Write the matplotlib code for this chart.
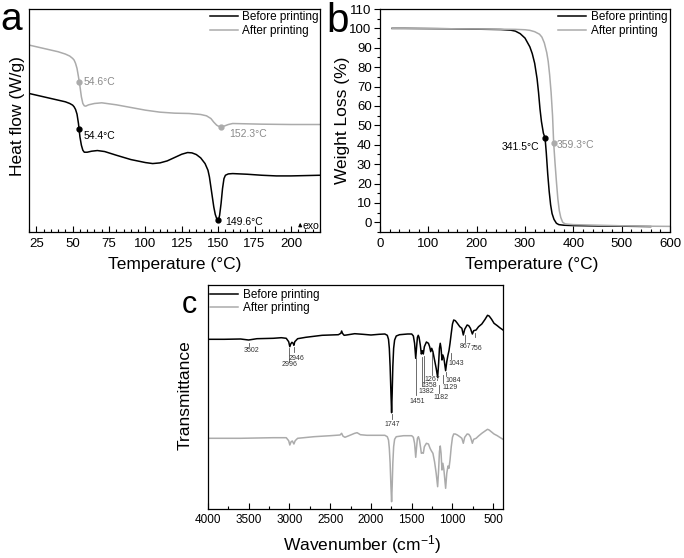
import numpy as np
import matplotlib
matplotlib.use("Agg")
import matplotlib.pyplot as plt
from matplotlib.ticker import MultipleLocator

plt.rcParams['font.family'] = ['Liberation Sans', 'DejaVu Sans']
plt.rcParams['mathtext.default'] = 'regular'

# ---------------- data: DSC (panel a) ----------------
dsc_T_before = [20, 25, 30, 35, 40, 45, 48, 50, 51, 52, 53, 54, 55, 56, 57, 58, 60, 63, 67, 72,
                80, 90, 100, 105, 110, 115, 120, 125, 129, 132, 135, 138, 141, 143, 144, 145,
                146, 147, 148, 149, 149.6, 150.3, 151, 152, 153, 154, 155, 157, 160, 170, 180,
                190, 200, 210, 220]
dsc_hf_before = [4.15, 4.10, 4.05, 4.00, 3.95, 3.90, 3.85, 3.80, 3.75, 3.67, 3.53, 3.25, 2.85,
                 2.60, 2.45, 2.39, 2.39, 2.42, 2.44, 2.41, 2.30, 2.17, 2.08, 2.05, 2.07, 2.13,
                 2.23, 2.33, 2.38, 2.37, 2.32, 2.22, 2.05, 1.85, 1.65, 1.35, 1.05, 0.75, 0.53,
                 0.40, 0.35, 0.37, 0.50, 0.85, 1.30, 1.60, 1.70, 1.74, 1.75, 1.73, 1.70, 1.68,
                 1.68, 1.69, 1.70]
dsc_T_after = [20, 25, 30, 35, 40, 45, 48, 50, 51, 52, 53, 54, 55, 56, 57, 58, 59, 61, 65, 70,
               80, 90, 100, 110, 120, 130, 138, 142, 145, 147, 149, 151, 152.3, 154, 157, 160,
               170, 180, 200, 220]
dsc_hf_after = [5.60, 5.55, 5.50, 5.45, 5.40, 5.33, 5.27, 5.20, 5.15, 5.05, 4.90, 4.65, 4.37,
                4.05, 3.85, 3.78, 3.77, 3.81, 3.85, 3.87, 3.81, 3.73, 3.65, 3.59, 3.56, 3.55,
                3.52, 3.48, 3.40, 3.29, 3.20, 3.15, 3.14, 3.17, 3.22, 3.25, 3.24, 3.23, 3.22,
                3.22]
dsc_tg = [54.4, 54.6]        # before, after
dsc_tm = [149.6, 152.3]      # before, after

# ---------------- data: TGA (panel b) ----------------
tga_T_before = [25, 50, 100, 150, 200, 250, 270, 280, 290, 300, 310, 315, 320, 325, 328, 331,
                334, 338, 341.5, 344, 347, 350, 353, 356, 360, 365, 370, 380, 400, 450, 500, 560]
tga_w_before = [100.0, 100.0, 99.9, 99.8, 99.6, 99.4, 99.1, 98.6, 97.3, 95.0, 90.5, 87.0, 82.0,
                74.0, 67.0, 58.5, 52.0, 46.0, 43.5, 36.0, 25.0, 16.0, 9.0, 4.5, 1.5, -0.5, -1.2,
                -1.5, -1.7, -1.9, -2.0, -2.2]
tga_T_after = [25, 100, 200, 280, 300, 310, 320, 330, 335, 340, 345, 348, 351, 354, 357, 359.3,
               362, 365, 368, 371, 374, 378, 383, 390, 400, 450, 500, 550, 600]
tga_w_after = [100.0, 99.9, 99.7, 99.5, 99.3, 99.0, 98.3, 97.0, 95.5, 92.5, 87.5, 83.0, 76.0,
               67.0, 55.0, 41.0, 31.0, 21.0, 12.0, 6.0, 2.5, 0.0, -0.8, -1.0, -1.2, -1.5, -1.8,
               -2.0, -2.1]
tga_td = [341.5, 359.3]      # before, after

# ---------------- data: FTIR (panel c) ----------------
ir_wn_before = [4000, 3800, 3600, 3502, 3400, 3200, 3100, 3040, 3010, 2996, 2985, 2970, 2955,
                2946, 2935, 2900, 2800, 2600, 2400, 2370, 2360, 2350, 2330, 2300, 2200, 2100,
                2000, 1900, 1830, 1800, 1785, 1775, 1765, 1755, 1747, 1740, 1732, 1722, 1710,
                1690, 1650, 1550, 1500, 1480, 1465, 1451, 1440, 1430, 1420, 1410, 1395, 1382,
                1370, 1358, 1345, 1320, 1295, 1280, 1267, 1255, 1240, 1220, 1200, 1182, 1170,
                1160, 1150, 1140, 1129, 1118, 1105, 1084, 1070, 1055, 1043, 1030, 1015, 1000,
                985, 965, 940, 910, 885, 867, 850, 820, 800, 780, 756, 740, 710, 680, 640, 600,
                570, 550, 520, 490, 450, 420, 380]
ir_t_before = [169.7, 169.7, 170.0, 169.0, 170.3, 170.7, 171.3, 170.7, 167.3, 162.3, 165.0,
               166.7, 165.7, 163.7, 167.3, 170.3, 171.7, 173.7, 174.3, 175.7, 178.0, 175.7,
               173.7, 174.0, 175.3, 174.7, 174.0, 174.7, 175.0, 173.7, 169.7, 160.7, 142.3,
               115.7, 96.3, 115.7, 142.3, 160.7, 169.0, 173.0, 174.3, 175.0, 175.0, 173.0,
               165.7, 150.7, 162.3, 171.7, 173.7, 171.7, 164.0, 155.0, 158.3, 155.0, 162.3,
               167.0, 165.7, 162.3, 157.3, 160.7, 157.3, 149.0, 140.7, 131.7, 145.7, 160.7,
               165.7, 160.7, 149.0, 154.0, 150.7, 138.3, 147.3, 154.0, 158.3, 165.7, 175.7,
               185.0, 189.0, 188.3, 185.7, 182.3, 180.7, 174.0, 179.7, 184.0, 183.3, 180.7,
               175.0, 178.3, 179.0, 182.3, 185.0, 189.7, 193.7, 193.0, 189.7, 185.7, 183.3,
               181.3, 179.0]
ir_wn_after = [4000, 3600, 3200, 3040, 3010, 2996, 2980, 2965, 2946, 2930, 2900, 2700, 2500,
               2380, 2360, 2345, 2320, 2280, 2200, 2170, 2130, 2050, 1900, 1830, 1800, 1785,
               1775, 1765, 1755, 1747, 1740, 1732, 1722, 1710, 1690, 1600, 1500, 1480, 1465,
               1451, 1440, 1430, 1418, 1405, 1390, 1382, 1370, 1358, 1345, 1320, 1295, 1275,
               1260, 1240, 1220, 1200, 1182, 1170, 1160, 1150, 1140, 1129, 1118, 1105, 1084,
               1070, 1055, 1043, 1030, 1015, 1000, 985, 965, 940, 910, 885, 867, 850, 820, 800,
               780, 756, 740, 710, 680, 640, 600, 570, 550, 520, 490, 450, 420, 380]
ir_t_after = [70.7, 70.7, 71.3, 71.3, 68.3, 64.0, 67.3, 68.0, 65.0, 68.3, 70.7, 72.3, 73.3,
              74.0, 75.7, 73.0, 71.7, 73.0, 75.7, 76.3, 74.3, 73.7, 73.7, 73.7, 72.3, 69.0,
              60.7, 45.7, 22.3, 7.3, 22.3, 45.7, 62.3, 69.7, 72.3, 73.3, 73.3, 71.7, 65.7,
              51.7, 62.3, 70.7, 72.3, 69.0, 60.7, 55.7, 56.3, 55.7, 62.3, 65.7, 65.0, 60.7,
              58.3, 55.7, 47.3, 35.7, 22.3, 39.0, 57.3, 63.0, 55.7, 39.0, 45.7, 39.0, 20.7,
              35.7, 43.0, 40.7, 49.0, 62.3, 71.7, 75.0, 75.0, 74.0, 72.3, 70.7, 65.7, 71.7,
              75.0, 74.7, 72.3, 65.7, 69.7, 70.7, 73.0, 75.7, 78.0, 79.7, 79.0, 77.0, 75.0,
              73.3, 71.7, 69.7]
ir_peaks = ['3502', '2996', '2946', '1747', '1451', '1382', '1358', '1267', '1182', '1129',
            '1084', '1043', '867', '756']

series_labels = ['Before printing', 'After printing']
BLACK = '#000000'
GREY_LINE = '#ababab'
GREY_TEXT = '#8a8a8a'

W, H = 684, 558
fig = plt.figure(figsize=(W / 100, H / 100), dpi=100)


def px_axes(l, t, r, b):
    return fig.add_axes([l / W, 1 - b / H, (r - l) / W, (b - t) / H])


def ftext(x, y, s, **kw):
    fig.text(x / W, 1 - y / H, s, **kw)


def style_axes(ax, lab_size, pad):
    for sp in ax.spines.values():
        sp.set_linewidth(0.9)
    ax.tick_params(which='both', direction='in', top=False, right=False,
                   labelsize=lab_size, pad=pad, width=0.8)
    ax.tick_params(which='major', length=4)
    ax.tick_params(which='minor', length=2)


lw = 1.1
leg_kw = dict(frameon=False, fontsize=8.5, handlelength=2.4, handletextpad=0.35,
              labelspacing=0.12, borderpad=0, borderaxespad=0)

# ---------------- panel a ----------------
axa = px_axes(29, 9, 320, 232)
axa.plot(dsc_T_before, dsc_hf_before, color=BLACK, lw=lw, label=series_labels[0])
axa.plot(dsc_T_after, dsc_hf_after, color=GREY_LINE, lw=lw, label=series_labels[1])
axa.set_xlim(20, 220)
axa.set_ylim(0, 6.68)
axa.xaxis.set_major_locator(MultipleLocator(25))
axa.xaxis.set_minor_locator(MultipleLocator(5))
style_axes(axa, 9.5, 4)
axa.tick_params(axis='y', which='both', left=False, labelleft=False)
axa.set_xticks([25, 50, 75, 100, 125, 150, 175, 200])
for T_list, hf_list, temps, col in [
        (dsc_T_before, dsc_hf_before, [dsc_tg[0], dsc_tm[0]], BLACK),
        (dsc_T_after, dsc_hf_after, [dsc_tg[1], dsc_tm[1]], GREY_LINE)]:
    for t in temps:
        axa.plot([t], [np.interp(t, T_list, hf_list)], marker='o', ms=3.5, color=col,
                 mec=col)
axa.text(57.3, 4.50, f'{dsc_tg[1]}°C', color=GREY_TEXT, fontsize=7.5, va='center')
axa.text(57.3, 2.87, f'{dsc_tg[0]}°C', color=BLACK, fontsize=7.5, va='center')
axa.text(157.6, 2.95, f'{dsc_tm[1]}°C', color=GREY_TEXT, fontsize=7.5, va='center')
axa.text(154.6, 0.30, f'{dsc_tm[0]}°C', color=BLACK, fontsize=7.5, va='center')
axa.annotate('', xy=(206.4, 0.36), xytext=(206.4, 0.08),
             arrowprops=dict(arrowstyle='-|>', color=BLACK, lw=0.8, mutation_scale=5))
axa.text(207.8, 0.17, 'exo', color=BLACK, fontsize=7.5, va='center')
axa.legend(loc='upper left', bbox_to_anchor=(0.622, 0.99), **leg_kw)

# ---------------- panel b ----------------
axb = px_axes(380, 9, 670, 232)
axb.plot(tga_T_before, tga_w_before, color=BLACK, lw=lw, label=series_labels[0])
axb.plot(tga_T_after, tga_w_after, color=GREY_LINE, lw=lw, label=series_labels[1])
axb.set_xlim(0, 600)
axb.set_ylim(-5, 110)
axb.xaxis.set_major_locator(MultipleLocator(100))
axb.xaxis.set_minor_locator(MultipleLocator(20))
axb.yaxis.set_major_locator(MultipleLocator(10))
axb.yaxis.set_minor_locator(MultipleLocator(5))
axb.set_yticks(np.arange(0, 111, 10))
style_axes(axb, 9.5, 4)
axb.tick_params(axis='y', which='both', direction='out', pad=2)
axb.plot([tga_td[0]], [np.interp(tga_td[0], tga_T_before, tga_w_before)], marker='o', ms=3.5,
         color=BLACK)
axb.plot([tga_td[1]], [np.interp(tga_td[1], tga_T_after, tga_w_after)], marker='o', ms=3.5,
         color=GREY_LINE)
axb.text(329, 38.6, f'{tga_td[0]}°C', color=BLACK, fontsize=7.5, va='center', ha='right')
axb.text(366, 40.0, f'{tga_td[1]}°C', color=GREY_TEXT, fontsize=7.5, va='center')
axb.legend(loc='upper left', bbox_to_anchor=(0.614, 0.99), **leg_kw)

# ---------------- panel c ----------------
axc = px_axes(208, 285, 503, 509)
axc.plot(ir_wn_before, ir_t_before, color=BLACK, lw=lw, label=series_labels[0])
axc.plot(ir_wn_after, ir_t_after, color=GREY_LINE, lw=lw, label=series_labels[1])
axc.set_xlim(4000, 380)
axc.set_ylim(0, 224)
axc.xaxis.set_major_locator(MultipleLocator(500))
axc.xaxis.set_minor_locator(MultipleLocator(250))
axc.set_xticks(np.arange(500, 4001, 500))
style_axes(axc, 8.5, 3.6)
axc.tick_params(axis='y', which='both', left=False, labelleft=False)

# peak label layout: tick x, tick top, tick bottom, text x, text y
peak_layout = [
    (3494, 165.7, 163.0, 3470, 159.0),
    (3000, 160.7, 147.3, 2996, 144.0),
    (2943, 162.3, 157.3, 2915, 150.7),
    (1740, 94.7, 89.7, 1740, 84.7),
    (1445, 150.7, 114.0, 1436, 107.3),
    (1370, 152.3, 123.0, 1320, 117.8),
    (1345, 153.3, 126.0, 1280, 123.4),
    (1255, 157.3, 134.0, 1250, 129.6),
    (1166, 124.0, 116.3, 1137, 111.3),
    (1117, 134.0, 125.7, 1026, 121.3),
    (1075, 137.3, 133.0, 995, 129.0),
    (1023, 156.3, 149.7, 953, 145.7),
    (843, 174.0, 167.3, 839, 162.3),
    (720, 176.3, 172.3, 701, 160.7),
]
for lab, (tx, t0, t1, xx, yy) in zip(ir_peaks, peak_layout):
    axc.plot([tx, tx], [t0, t1], color='#555555', lw=0.6)
    axc.text(xx, yy, lab, fontsize=5.0, color='#333333', ha='center', va='center')
axc.legend(loc='upper left', bbox_to_anchor=(0.007, 0.982), **leg_kw)

# ---------------- axis labels & panel letters ----------------
lab_fs = 12.5
ftext(18, 116, 'Heat flow (W/g)', fontsize=lab_fs, rotation=90, ha='center', va='center')
ftext(175, 264, 'Temperature (°C)', fontsize=lab_fs, ha='center', va='center')
ftext(343, 120, 'Weight Loss (%)', fontsize=lab_fs, rotation=90, ha='center', va='center')
ftext(532, 264, 'Temperature (°C)', fontsize=lab_fs, ha='center', va='center')
ftext(185, 395, 'Transmittance', fontsize=lab_fs, rotation=90, ha='center', va='center')
ftext(362, 545, 'Wavenumber (cm$^{-1}$)', fontsize=lab_fs, ha='center', va='center')

ftext(11.5, 30, 'a', fontsize=28, ha='center', va='baseline')
ftext(337.5, 32, 'b', fontsize=29, ha='center', va='baseline')
ftext(189.5, 313, 'c', fontsize=22, ha='center', va='baseline')

fig.savefig('out.png', dpi=100)
